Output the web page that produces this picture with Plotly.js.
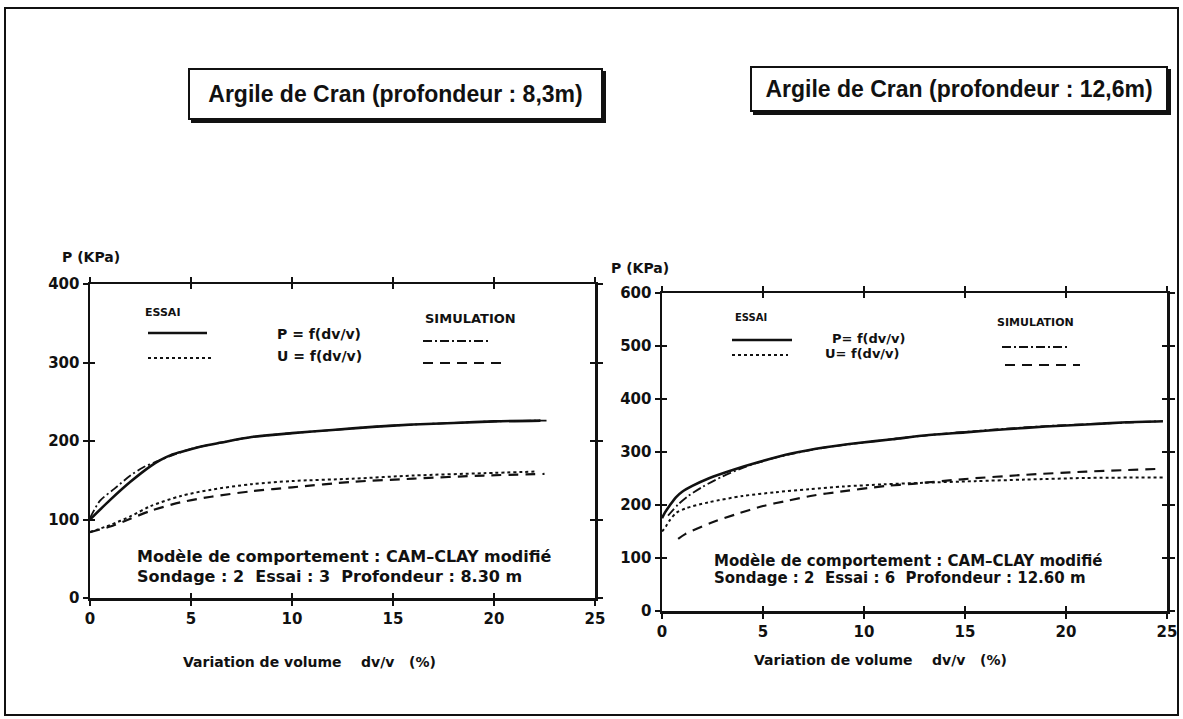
<!DOCTYPE html>
<html>
<head>
<meta charset="utf-8">
<script src="https://cdn.plot.ly/plotly-3.0.1.min.js"></script>
<style>
  html, body { margin: 0; padding: 0; background: #fff; }
  #chart { width: 1183px; height: 719px; }
</style>
</head>
<body>
<div id="chart"></div>
<script>
// ---- Argile de Cran, profondeur 8,3 m (essai 3) ----
const dvL_essaiP = [0, 1, 2, 3, 3.5, 4, 4.5, 5.5, 6.5, 8, 10, 12, 14, 16, 18, 20, 22.3];
const pL_essai   = [100, 125, 148, 168, 176, 182, 186, 193, 198, 205, 210, 214, 218, 221, 223, 225, 226];
const dvL_simP   = [0, 0.5, 1.2, 2.0, 2.6, 3.3, 4, 5, 6.5, 8, 10, 12, 14, 16, 18, 20, 22.6];
const pL_sim     = [102, 124, 139, 156, 166, 174, 181, 190, 198, 205, 210, 214, 218, 221, 223, 225, 226];
const dvL_essaiU = [0, 1, 2, 3, 4.5, 6, 8, 10, 13, 16, 19.5, 22];
const uL_essai   = [84, 93, 104, 117, 130, 138, 145, 149, 152, 156, 159, 161];
const dvL_simU   = [0, 1, 2, 3, 4.5, 6, 8, 10, 13, 16, 19.5, 22.5];
const uL_sim     = [84, 91, 101, 111, 122, 129, 136, 141, 148, 152, 156, 158];

// ---- Argile de Cran, profondeur 12,6 m (essai 6) ----
const dvR_essaiP = [0, 0.15, 0.4, 0.7, 1.0, 1.5, 2.3, 3.5, 4.8, 6.4, 8.1, 9.7, 11.4, 13, 15, 17, 19, 21, 23, 24.8];
const pR_essai   = [175, 186, 200, 215, 225, 236, 250, 266, 281, 297, 309, 317, 324, 331, 337, 343, 348, 352, 356, 358];
const dvR_simP   = [0.3, 0.8, 1.3, 2.0, 3.0, 4.0, 5.0, 6.5, 8, 10, 13, 16, 19, 22, 24.6];
const pR_sim     = [180, 201, 217, 234, 254, 270, 283, 297, 308, 318, 331, 341, 349, 354, 358];
const dvR_essaiU = [0, 0.2, 0.4, 0.7, 1.2, 2.3, 4, 5.6, 7.3, 9, 11, 13, 15.5, 18, 21, 24.8];
const uR_essai   = [150, 160, 172, 185, 194, 205, 217, 224, 230, 235, 239, 242, 245, 248, 251, 252];
const dvR_simU   = [0.8, 1.15, 2.4, 3.7, 5, 6.2, 7.5, 8.6, 11.1, 12.4, 15, 18, 21, 24.5];
const uR_sim     = [136, 145, 166, 183, 198, 208, 218, 224, 236, 240, 249, 257, 263, 268];

// ---- tick labels ----
const xTicks  = [0, 5, 10, 15, 20, 25];
const yTicksL = [0, 100, 200, 300, 400];
const yTicksR = [0, 100, 200, 300, 400, 500, 600];

const W = 1183, H = 719;
const fx = p => p / W;
const fy = p => 1 - p / H;

const FONT = 'DejaVu Sans, Liberation Sans, Arial, sans-serif';
const INK = '#111';

// dash patterns
const DASH_DOT = '9px,3px,2px,3px';
const DASH_LONG = '10px,7px';

function curve(x, y, xa, ya, style) {
  const s = {
    solid:   { width: 2.6, dash: 'solid' },
    dotted:  { width: 2.0, dash: 'dot' },
    dashdot: { width: 1.8, dash: DASH_DOT },
    dashed:  { width: 2.2, dash: DASH_LONG }
  }[style];
  return {
    type: 'scatter', mode: 'lines', x: x, y: y, xaxis: xa, yaxis: ya,
    line: { color: INK, width: s.width, dash: s.dash, shape: 'spline', smoothing: 0.8 },
    showlegend: false, hoverinfo: 'skip'
  };
}

const traces = [
  curve(dvL_essaiP, pL_essai, 'x', 'y', 'solid'),
  curve(dvL_simP, pL_sim, 'x', 'y', 'dashdot'),
  curve(dvL_essaiU, uL_essai, 'x', 'y', 'dotted'),
  curve(dvL_simU, uL_sim, 'x', 'y', 'dashed'),
  curve(dvR_essaiP, pR_essai, 'x2', 'y2', 'solid'),
  curve(dvR_simP, pR_sim, 'x2', 'y2', 'dashdot'),
  curve(dvR_essaiU, uR_essai, 'x2', 'y2', 'dotted'),
  curve(dvR_simU, uR_sim, 'x2', 'y2', 'dashed'),
  // empty traces so the inner-tick overlay axes get their subplots
  { type: 'scatter', x: [], y: [], xaxis: 'x3', yaxis: 'y3', showlegend: false },
  { type: 'scatter', x: [], y: [], xaxis: 'x4', yaxis: 'y4', showlegend: false }
];

const tickFont = { family: FONT, size: 15, color: INK, weight: 'bold' };

function mainAxis(domain, range, tickvals) {
  return {
    domain: domain, range: range, tickmode: 'array', tickvals: tickvals,
    ticktext: tickvals.map(String),
    showline: true, linecolor: INK, linewidth: 2.5, mirror: 'ticks',
    ticks: 'outside', ticklen: 5, tickwidth: 2, tickcolor: INK,
    showgrid: false, zeroline: false, fixedrange: true,
    tickfont: tickFont
  };
}
function innerTicks(overlay, anchor, side, range, tickvals) {
  return {
    overlaying: overlay, anchor: anchor, side: side, range: range,
    tickmode: 'array', tickvals: tickvals, showticklabels: false,
    showline: false, mirror: 'ticks', ticks: 'inside', ticklen: 5, tickwidth: 2,
    tickcolor: INK, showgrid: false, zeroline: false, fixedrange: true
  };
}

const xDomL = [fx(90), fx(595)],  yDomL = [fy(598), fy(284)];
const xDomR = [fx(662), fx(1167)], yDomR = [fy(611), fy(293)];

const layout = {
  width: W, height: H,
  margin: { l: 0, r: 0, t: 0, b: 0, pad: 0 },
  paper_bgcolor: '#fff', plot_bgcolor: 'rgba(0,0,0,0)',
  font: { family: FONT, color: INK },
  showlegend: false,
  xaxis:  Object.assign(mainAxis(xDomL, [0, 25], xTicks), { anchor: 'y' }),
  yaxis:  Object.assign(mainAxis(yDomL, [0, 400], yTicksL), { anchor: 'x' }),
  xaxis2: Object.assign(mainAxis(xDomR, [0, 25], xTicks), { anchor: 'y2' }),
  yaxis2: Object.assign(mainAxis(yDomR, [0, 600], yTicksR), { anchor: 'x2' }),
  xaxis3: innerTicks('x', 'y3', 'bottom', [0, 25], xTicks),
  yaxis3: innerTicks('y', 'x3', 'left', [0, 400], yTicksL),
  xaxis4: innerTicks('x2', 'y4', 'bottom', [0, 25], xTicks),
  yaxis4: innerTicks('y2', 'x4', 'left', [0, 600], yTicksR),
  shapes: [],
  annotations: []
};

const A = layout.annotations, S = layout.shapes;

function text(t, x, y, size, anchor, extra) {
  A.push(Object.assign({
    text: t, xref: 'paper', yref: 'paper', x: fx(x), y: fy(y),
    xanchor: anchor || 'left', yanchor: 'middle', showarrow: false,
    font: { family: FONT, size: size, color: INK, weight: 'bold' }
  }, extra || {}));
}
function sample(x0, x1, y, dash, width) {
  S.push({ type: 'line', xref: 'paper', yref: 'paper',
    x0: fx(x0), x1: fx(x1), y0: fy(y), y1: fy(y),
    line: { color: INK, width: width, dash: dash } });
}
function titleBox(t, x0, x1, y0, y1) {
  // drop shadow
  S.push({ type: 'rect', xref: 'paper', yref: 'paper', layer: 'below',
    x0: fx(x0 + 3), x1: fx(x1 + 3), y0: fy(y1 + 3), y1: fy(y0 + 3),
    fillcolor: INK, line: { width: 0 } });
  A.push({
    text: t, xref: 'paper', yref: 'paper', x: fx((x0 + x1) / 2), y: fy((y0 + y1) / 2),
    xanchor: 'center', yanchor: 'middle', showarrow: false,
    width: x1 - x0 - 4, height: y1 - y0 - 4, borderpad: 0,
    bgcolor: '#fff', bordercolor: INK, borderwidth: 2,
    font: { family: 'Liberation Sans, Arial, sans-serif', size: 23, color: INK, weight: 'bold' }
  });
}

// page frame
S.push({ type: 'rect', xref: 'paper', yref: 'paper',
  x0: fx(5), x1: fx(1178), y0: fy(715), y1: fy(8),
  line: { color: INK, width: 2 }, fillcolor: 'rgba(0,0,0,0)' });

// titles
titleBox('Argile de Cran (profondeur : 8,3m)', 188, 603, 68, 120);
titleBox('Argile de Cran (profondeur : 12,6m)', 750, 1168, 66, 112);

const NB = '\u00A0';

// ---- left panel texts ----
text('P (KPa)', 91, 257, 14, 'center');
text('Variation de volume' + NB.repeat(4) + 'dv/v' + NB.repeat(3) + '(%)', 181, 662, 14, 'left');
text('ESSAI', 162, 312, 11, 'center');
sample(148, 207, 333, 'solid', 2.6);
sample(148, 213, 358, 'dot', 2);
text('P = f(dv/v)', 275, 334, 14, 'left');
text('U = f(dv/v)', 275, 356, 14, 'left');
text('SIMULATION', 423, 318, 13, 'left');
sample(423, 490, 341, DASH_DOT, 1.8);
sample(423, 508, 363, DASH_LONG, 2.2);
text('Modèle de comportement : CAM\u2013CLAY modifié', 135, 556, 16, 'left');
text('Sondage : 2' + NB.repeat(2) + 'Essai : 3' + NB.repeat(2) + 'Profondeur : 8.30 m', 135, 576, 16, 'left');

// ---- right panel texts ----
text('P (KPa)', 640, 268, 14, 'center');
text('Variation de volume' + NB.repeat(4) + 'dv/v' + NB.repeat(3) + '(%)', 752, 660, 14, 'left');
text('ESSAI', 751, 317, 10, 'center');
sample(732, 792, 340, 'solid', 2.6);
sample(732, 788, 355, 'dot', 2);
text('P= f(dv/v)', 830, 338, 13, 'left');
text('U= f(dv/v)', 823, 354, 13, 'left');
text('SIMULATION', 1035, 322, 11, 'center');
sample(1002, 1068, 347, DASH_DOT, 1.8);
sample(1005, 1080, 365, DASH_LONG, 2.2);
text('Modèle de comportement : CAM\u2013CLAY modifié', 712, 561, 15, 'left');
text('Sondage : 2' + NB.repeat(2) + 'Essai : 6' + NB.repeat(2) + 'Profondeur : 12.60 m', 712, 578, 15, 'left');

Plotly.newPlot('chart', traces, layout, { staticPlot: true, displayModeBar: false });
</script>
</body>
</html>
